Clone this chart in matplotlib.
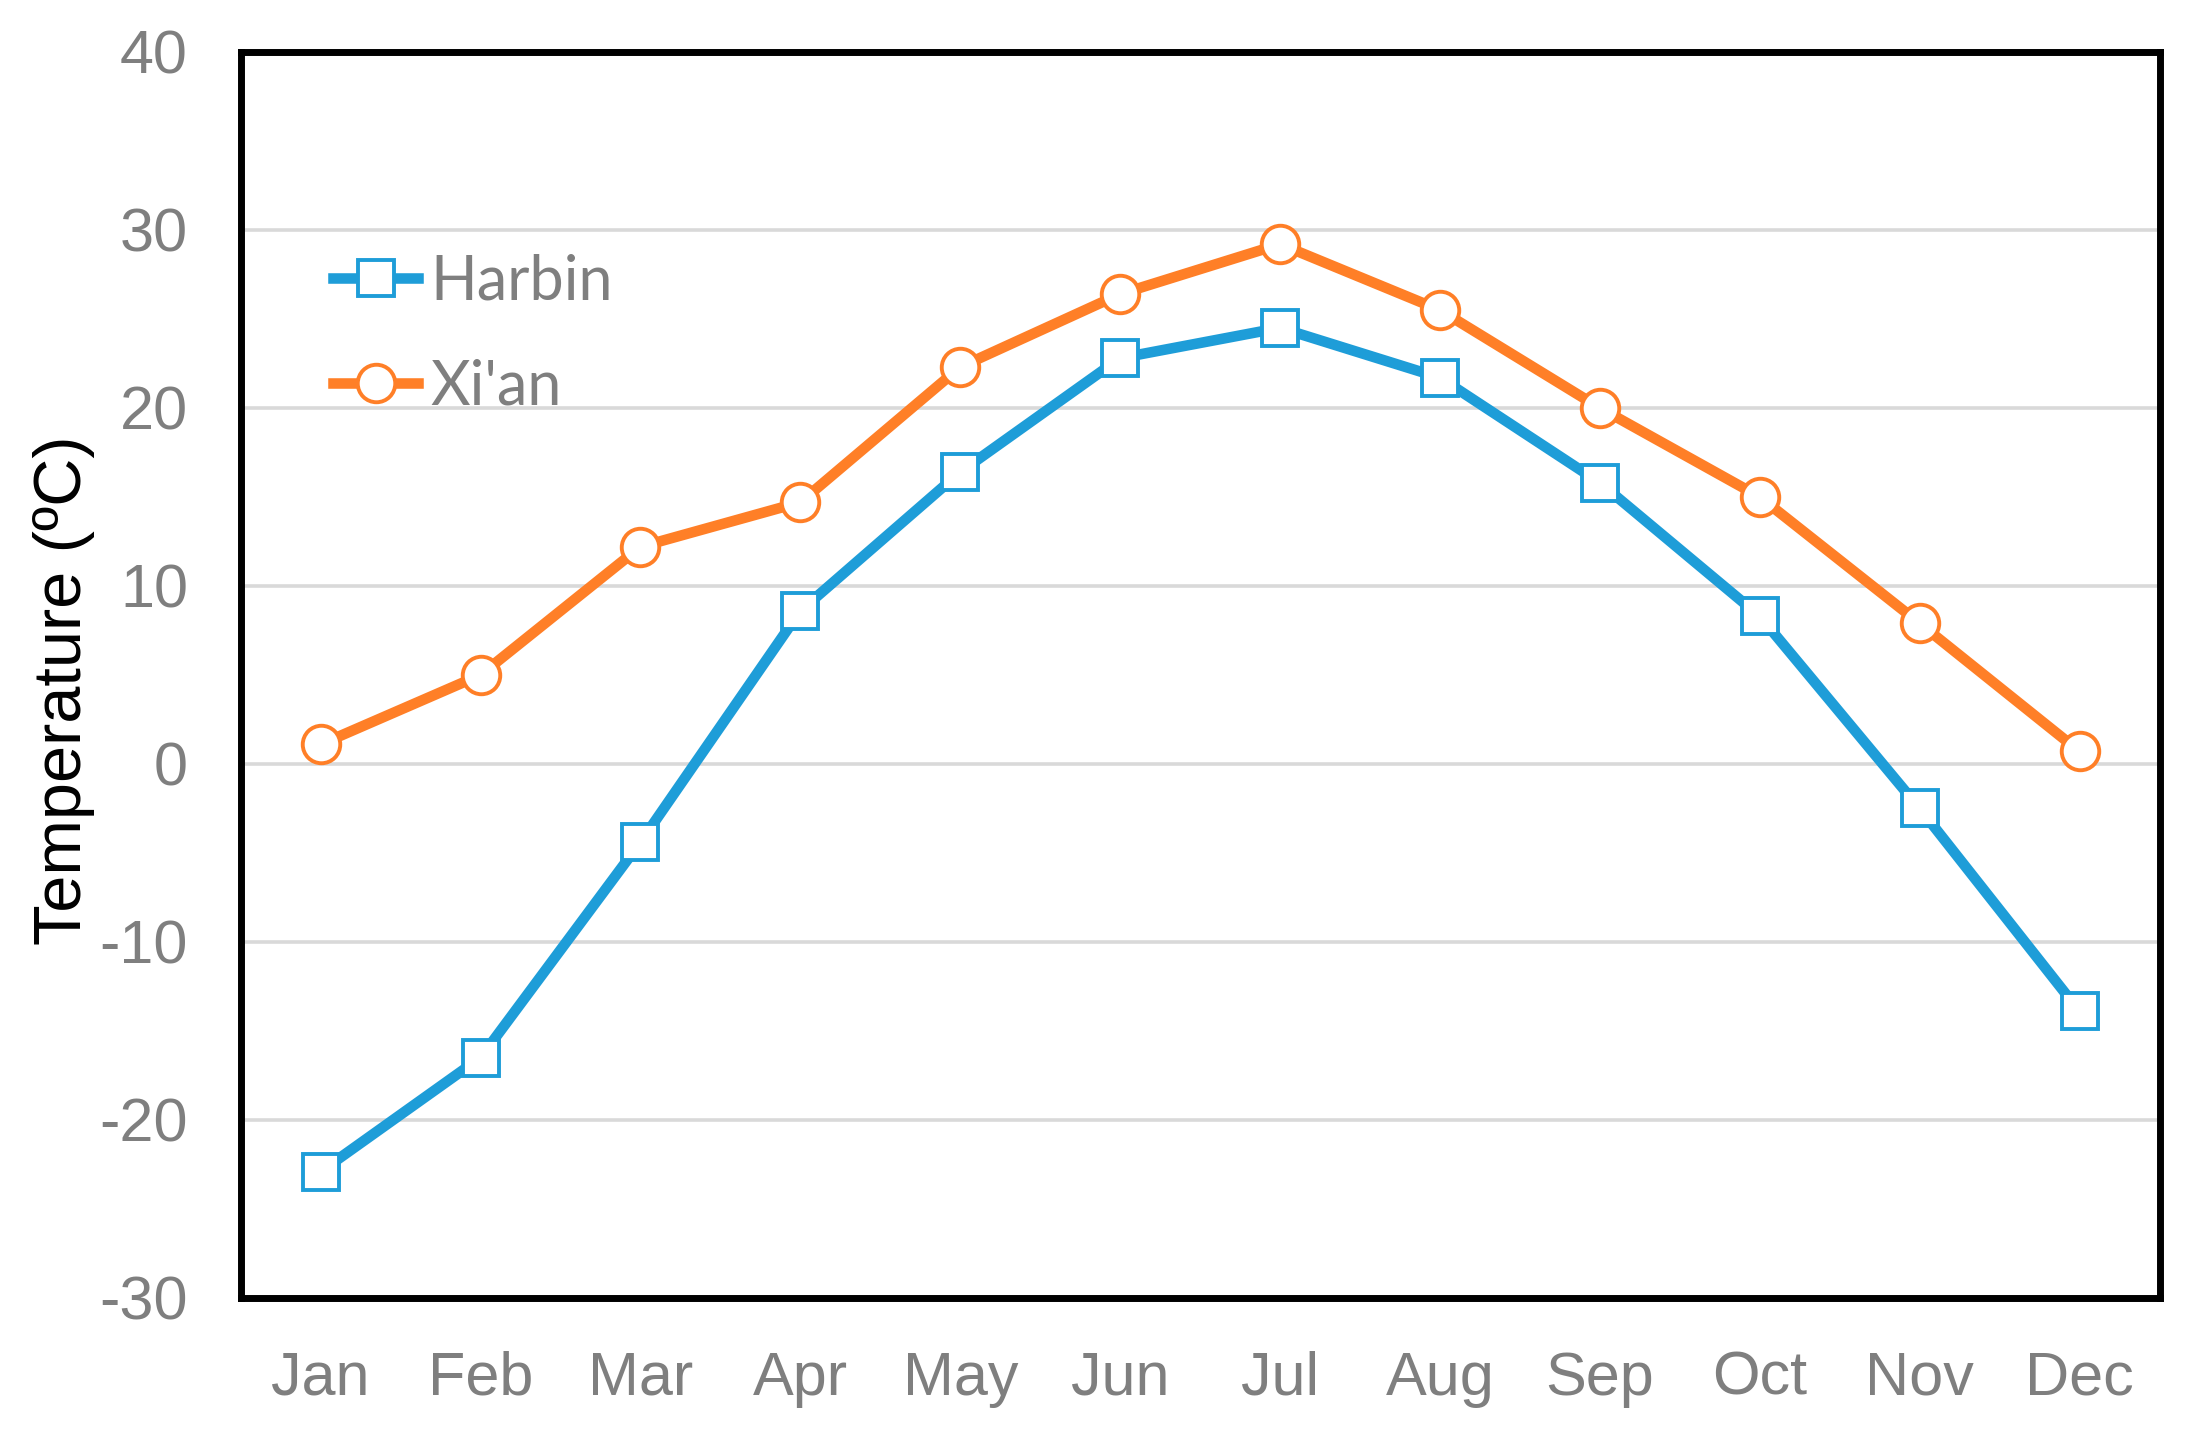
import matplotlib
matplotlib.use("Agg")
import matplotlib.pyplot as plt
import numpy as np

months = ["Jan", "Feb", "Mar", "Apr", "May", "Jun", "Jul", "Aug", "Sep", "Oct", "Nov", "Dec"]
harbin = [-22.9, -16.5, -4.4, 8.6, 16.4, 22.8, 24.5, 21.7, 15.8, 8.3, -2.5, -13.9]
xian = [1.1, 5.0, 12.2, 14.7, 22.3, 26.4, 29.2, 25.5, 20.0, 15.0, 7.9, 0.7]
yticks = [-30, -20, -10, 0, 10, 20, 30, 40]

blue = "#1E9DD8"
orange = "#FF7F27"
gray = "#7F7F7F"

plt.rcParams["font.family"] = ["Liberation Sans", "DejaVu Sans"]

fig = plt.figure(figsize=(10.94, 7.175), dpi=200)
ax = fig.add_axes([0.110, 0.0955, 0.877, 0.8683])

x = np.arange(len(months)) + 0.5
ax.plot(x, harbin, color=blue, lw=3.8, marker="s", ms=13, mfc="white",
        mec=blue, mew=1.4, label="Harbin", zorder=3)
ax.plot(x, xian, color=orange, lw=3.8, marker="o", ms=13.5, mfc="white",
        mec=orange, mew=1.4, label="Xi'an", zorder=3)

ax.set_xlim(0, len(months))
ax.set_ylim(-30, 40)
ax.set_yticks(yticks)
ax.set_yticklabels([str(v) for v in yticks])
ax.set_xticks(x)
ax.set_xticklabels(months)
ax.tick_params(axis="both", length=0, labelsize=22, labelcolor=gray)
ax.tick_params(axis="y", pad=19)
ax.tick_params(axis="x", pad=19)

ax.yaxis.grid(True, color="#D9D9D9", lw=1.3, zorder=0)
ax.set_axisbelow(True)
for s in ax.spines.values():
    s.set_color("black")
    s.set_linewidth(2.5)

ax.set_ylabel("Temperature (ºC)", fontsize=24, color="black")
ax.yaxis.set_label_coords(-0.076, 0.488)

leg = ax.legend(loc="upper left", bbox_to_anchor=(0.048, 0.838), frameon=False,
                prop={"family": "Lato", "size": 22}, labelcolor=gray,
                handlelength=1.4, handletextpad=0.2, labelspacing=0.78,
                borderpad=0, borderaxespad=0)

fig.savefig("out.png", dpi=200, facecolor="white")
